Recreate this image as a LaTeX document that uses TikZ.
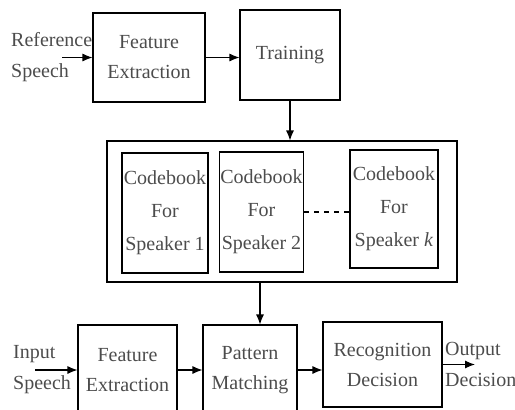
\documentclass[tikz,border=0pt]{standalone}
\usepackage{fontspec}
\setmainfont{Liberation Serif}
\usetikzlibrary{arrows.meta}

\begin{document}
\begin{tikzpicture}[x=1pt,y=-1pt,>={Latex[length=10pt,width=8pt]},
		box/.style={draw, line width=1.1pt, align=center, inner sep=1pt, text=black!70, font=\fontsize{20}{30}\selectfont},
		lbl/.style={anchor=west, align=left, inner sep=0pt, text=black!70, font=\fontsize{20}{31}\selectfont}]
		\useasboundingbox (0,0) rectangle (515,410);
		% enrolment
		\node[box, minimum width=112pt, minimum height=89pt] (fe1) at (149,57.5) {Feature\\Extraction};
		\node[box, minimum width=100pt, minimum height=90pt] (train) at (290,55) {Training};
		\node[lbl] (ref) at (11,57) {Reference\\Speech};
		\coordinate (refin) at (62,57.5);
		\draw[->, line width=1.1pt] (refin) -- (fe1.west);
		\draw[->, line width=1.1pt] (fe1.east) -- (fe1.east -| train.west);
		% codebooks
		\node[box, minimum width=350pt, minimum height=141pt] (books) at (282,211.5) {};
		\node[box, minimum width=86pt, minimum height=120pt, font=\fontsize{20}{33}\selectfont] (cb1) at (165,213) {Codebook\\For\\Speaker 1};
		\node[box, minimum width=83pt, minimum height=120pt, font=\fontsize{20}{33}\selectfont] (cb2) at (261.5,212) {Codebook\\For\\Speaker 2};
		\node[box, minimum width=88pt, minimum height=118pt, font=\fontsize{20}{33}\selectfont] (cbk) at (394,209) {Codebook\\For\\Speaker \textit{k}};
		\draw[dash pattern=on 5pt off 5pt, line width=1.2pt] (cb2.east) -- (cb2.east -| cbk.west);
		\draw[->, line width=1.1pt] (train.south) -- (train.south |- books.north);
		% recognition
		\node[box, minimum width=99pt, minimum height=90pt] (fe2) at (127.5,370) {Feature\\Extraction};
		\node[box, minimum width=94pt, minimum height=90pt] (pm) at (250,370) {Pattern\\Matching};
		\node[box, minimum width=119pt, minimum height=85pt] (rd) at (382.5,364.5) {Recognition\\Decision};
		\node[lbl] (inp) at (13,370) {Input\\Speech};
		\node[lbl] (outp) at (445,364) {Output\\Decision};
		\coordinate (inpin) at (35,370);
		\coordinate (outend) at (475,364.5);
		\draw[->, line width=1.1pt] (inpin) -- (fe2.west);
		\draw[->, line width=1.1pt] (fe2.east) -- (pm.west);
		\draw[->, line width=1.1pt] (pm.east) -- (pm.east -| rd.west);
		\draw[->, line width=1.1pt] (rd.east) -- (outend);
		\draw[->, line width=1.1pt] ([xshift=10pt]pm.north |- books.south) -- ([xshift=10pt]pm.north);
	\end{tikzpicture}
\end{document}
